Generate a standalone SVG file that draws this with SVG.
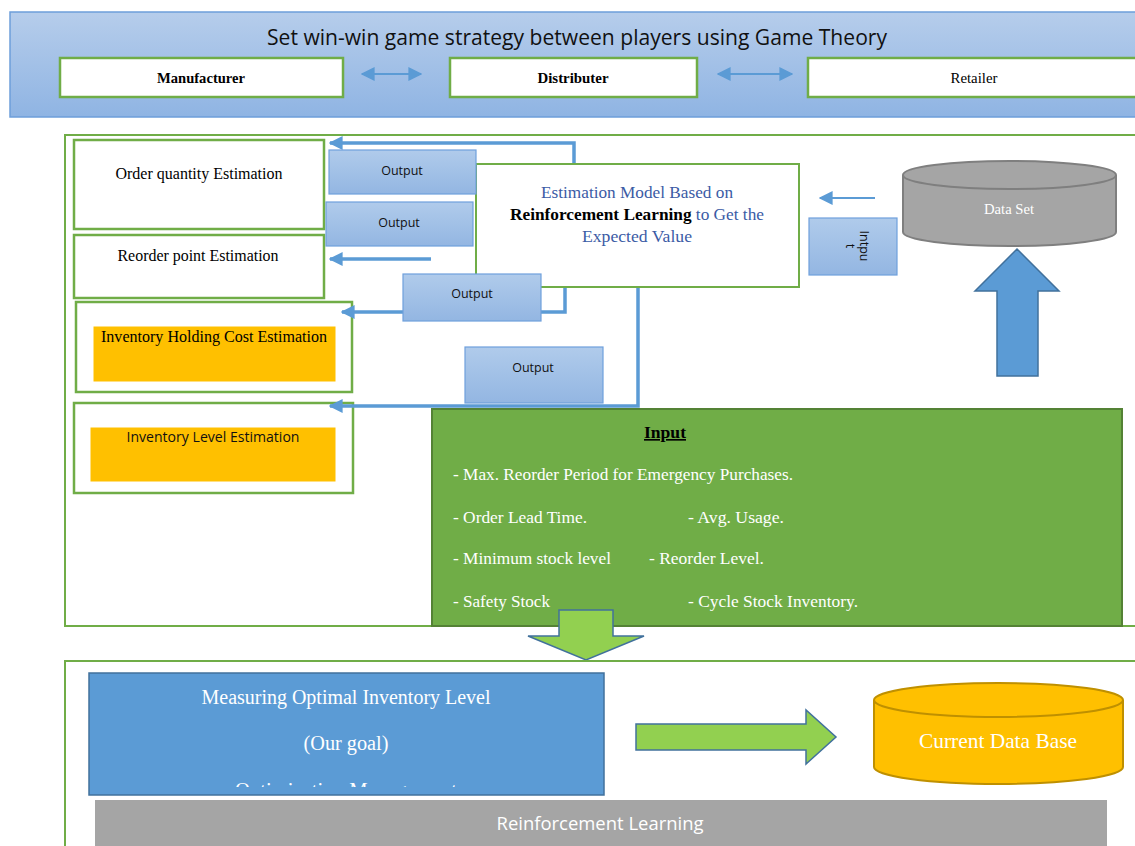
<svg xmlns="http://www.w3.org/2000/svg" width="1135" height="846" viewBox="0 0 1135 846">
<defs>
<linearGradient id="gBanner" x1="0" y1="0" x2="0" y2="1"><stop offset="0" stop-color="#b6cdeb"/><stop offset="1" stop-color="#8fb4e3"/></linearGradient>
<linearGradient id="gOut" x1="0" y1="0" x2="0" y2="1"><stop offset="0" stop-color="#b0cbeb"/><stop offset="1" stop-color="#93b6e2"/></linearGradient>
<marker id="ah" viewBox="0 0 10 10" refX="9" refY="5" markerWidth="4" markerHeight="4" orient="auto-start-reverse" markerUnits="strokeWidth"><path d="M0,0 L10,5 L0,10 z" fill="#5b9bd5"/></marker>
<marker id="ahs" viewBox="0 0 10 10" refX="9" refY="5" markerWidth="7" markerHeight="7" orient="auto-start-reverse" markerUnits="strokeWidth"><path d="M0,0 L10,5 L0,10 z" fill="#5b9bd5"/></marker>
<clipPath id="clipGoal"><rect x="89" y="673" width="515" height="114"/></clipPath>
<style>
.gbox{fill:#fff;stroke:#70ad47;stroke-width:2.5}
.frame{fill:none;stroke:#70ad47;stroke-width:2}
.out{fill:url(#gOut);stroke:#6fa0dc;stroke-width:1.2}
.conn{fill:none;stroke:#5b9bd5;stroke-width:3.5}
.tnr{font-family:"Liberation Serif","Times New Roman",serif}
.cal{font-family:"Open Sans","Liberation Sans",sans-serif}
.outt{font-family:"Open Sans","Liberation Sans",sans-serif;font-size:12.5px;fill:#111;text-anchor:middle}
.orange{fill:#ffc000;stroke:#fff;stroke-width:1}
.wt{fill:#fff}
</style>
</defs>

<g id="banner">
<rect x="10" y="12" width="1135" height="105" fill="url(#gBanner)" stroke="#6d9eda" stroke-width="1.5"/>
<text class="cal" x="577" y="45" font-size="21" text-anchor="middle" fill="#111" textLength="620" lengthAdjust="spacingAndGlyphs">Set win-win game strategy between players using Game Theory</text>
</g>
<g id="manufacturer">
<rect class="gbox" x="60" y="58" width="283" height="39"/>
<text class="tnr" x="201" y="83" font-size="14" font-weight="bold" text-anchor="middle" textLength="88" lengthAdjust="spacingAndGlyphs">Manufacturer</text>
</g>
<g id="distributer">
<rect class="gbox" x="450" y="58" width="247" height="39"/>
<text class="tnr" x="573" y="83" font-size="14" font-weight="bold" text-anchor="middle" textLength="71" lengthAdjust="spacingAndGlyphs">Distributer</text>
</g>
<g id="retailer">
<rect class="gbox" x="808" y="58" width="340" height="39"/>
<text class="tnr" x="974" y="83" font-size="14" text-anchor="middle" textLength="47" lengthAdjust="spacingAndGlyphs">Retailer</text>
</g>

<g id="middle-frame">
<rect class="frame" x="65" y="135" width="1080" height="491"/>
</g>

<g id="order-quantity">
<rect class="gbox" x="74" y="140" width="250" height="89"/>
<text class="tnr" x="199" y="179" font-size="16" text-anchor="middle" textLength="167" lengthAdjust="spacingAndGlyphs">Order quantity Estimation</text>
</g>
<g id="reorder-point">
<rect class="gbox" x="74" y="235" width="250" height="63"/>
<text class="tnr" x="198" y="261" font-size="16" text-anchor="middle" textLength="161" lengthAdjust="spacingAndGlyphs">Reorder point Estimation</text>
</g>
<g id="holding-cost">
<rect class="gbox" x="76" y="302" width="276" height="90" stroke-width="2"/>
<rect class="orange" x="93" y="326" width="243" height="56"/>
<text class="tnr" x="214" y="342" font-size="16" text-anchor="middle" textLength="226" lengthAdjust="spacingAndGlyphs">Inventory Holding Cost Estimation</text>
</g>
<g id="inventory-level">
<rect class="gbox" x="74" y="403" width="279" height="90" stroke-width="2"/>
<rect class="orange" x="90" y="427" width="246" height="55"/>
<text class="cal" x="213" y="442" font-size="14" text-anchor="middle" fill="#111" textLength="173" lengthAdjust="spacingAndGlyphs">Inventory Level Estimation</text>
</g>

<g id="connectors">
<path class="conn" d="M574,164 V143 H330" marker-end="url(#ah)"/>
<path class="conn" d="M431,259 H330" marker-end="url(#ah)"/>
<path class="conn" d="M565,268 V312 H342" marker-end="url(#ah)"/>
<path class="conn" d="M638,268 V406 H330" marker-end="url(#ah)"/>
<path d="M875,198 H820" fill="none" stroke="#5b9bd5" stroke-width="2" marker-end="url(#ahs)"/>
<path d="M362,74 H421" fill="none" stroke="#5b9bd5" stroke-width="2" marker-start="url(#ahs)" marker-end="url(#ahs)"/>
<path d="M718,74 H792" fill="none" stroke="#5b9bd5" stroke-width="2" marker-start="url(#ahs)" marker-end="url(#ahs)"/>
</g>

<g id="estimation-model">
<rect x="476" y="164" width="323" height="123" fill="#fff" stroke="#70ad47" stroke-width="2"/>
<text class="tnr" x="637" y="198" font-size="17" text-anchor="middle" fill="#3b5ba5" textLength="192" lengthAdjust="spacingAndGlyphs">Estimation Model Based on</text>
<text class="tnr" x="637" y="220" font-size="17" text-anchor="middle" fill="#3b5ba5" textLength="254" lengthAdjust="spacingAndGlyphs"><tspan font-weight="bold" fill="#000">Reinforcement Learning</tspan> to Get the</text>
<text class="tnr" x="637" y="242" font-size="17" text-anchor="middle" fill="#3b5ba5" textLength="110" lengthAdjust="spacingAndGlyphs">Expected Value</text>
</g>

<g id="output-1">
<rect class="out" x="329" y="150" width="147" height="44"/>
<text class="outt" x="402" y="175">Output</text>
</g>
<g id="output-2">
<rect class="out" x="326" y="202" width="147" height="44"/>
<text class="outt" x="399" y="227">Output</text>
</g>
<g id="output-3">
<rect class="out" x="403" y="274" width="138" height="47"/>
<text class="outt" x="472" y="298">Output</text>
</g>
<g id="output-4">
<rect class="out" x="465" y="347" width="138" height="56"/>
<text class="outt" x="533" y="372">Output</text>
</g>

<g id="input-small">
<rect class="out" x="809" y="218" width="88" height="57"/>
<text class="outt" transform="translate(860,246) rotate(90)" x="0" y="0">Intpu</text>
<text class="outt" transform="translate(846,246) rotate(90)" x="0" y="0">t</text>
</g>

<g id="data-set">
<path d="M903,175 V232 A106.5,14 0 0 0 1116,232 V175" fill="#a5a5a5" stroke="#7f7f7f" stroke-width="2"/>
<ellipse cx="1009.5" cy="175" rx="106.5" ry="14" fill="#a5a5a5" stroke="#7f7f7f" stroke-width="2"/>
<text class="tnr wt" x="1009" y="214" font-size="14.5" text-anchor="middle" textLength="50" lengthAdjust="spacingAndGlyphs">Data Set</text>
</g>

<g id="up-arrow">
<path d="M1017,249 L1059,291 L1038,291 L1038,376 L997,376 L997,291 L975,291 Z" fill="#5b9bd5" stroke="#41719c" stroke-width="1.5"/>
</g>

<g id="input-box">
<rect x="432" y="409" width="690" height="217" fill="#70ad47" stroke="#548235" stroke-width="2"/>
<text class="tnr" x="665" y="438" font-size="16.5" font-weight="bold" text-anchor="middle" text-decoration="underline" textLength="42" lengthAdjust="spacingAndGlyphs">Input</text>
<g class="tnr wt" font-size="16.5">
<text x="453" y="480" textLength="340" lengthAdjust="spacingAndGlyphs">- Max. Reorder Period for Emergency Purchases.</text>
<text x="453" y="523" textLength="134" lengthAdjust="spacingAndGlyphs">- Order Lead Time.</text>
<text x="688" y="523" textLength="96" lengthAdjust="spacingAndGlyphs">- Avg. Usage.</text>
<text x="453" y="564" textLength="158" lengthAdjust="spacingAndGlyphs">- Minimum stock level</text>
<text x="649" y="564" textLength="115" lengthAdjust="spacingAndGlyphs">- Reorder Level.</text>
<text x="453" y="607" textLength="97" lengthAdjust="spacingAndGlyphs">- Safety Stock</text>
<text x="688" y="607" textLength="170" lengthAdjust="spacingAndGlyphs">- Cycle Stock Inventory.</text>
</g>
</g>

<g id="down-arrow">
<path d="M559,610 H613 V636 H644 L586,660 L528,636 H559 Z" fill="#92d050" stroke="#41719c" stroke-width="1.5"/>
</g>

<g id="bottom-frame">
<rect class="frame" x="65" y="661" width="1080" height="200"/>
</g>

<g id="goal">
<rect x="89" y="673" width="515" height="122" fill="#5b9bd5" stroke="#41719c" stroke-width="1.5"/>
<g clip-path="url(#clipGoal)">
<text class="tnr wt" x="346" y="704" font-size="20" text-anchor="middle" textLength="289" lengthAdjust="spacingAndGlyphs">Measuring Optimal Inventory Level</text>
<text class="tnr wt" x="346" y="750" font-size="20" text-anchor="middle" textLength="85" lengthAdjust="spacingAndGlyphs">(Our goal)</text>
<text class="tnr wt" x="346" y="797" font-size="20" text-anchor="middle" textLength="222" lengthAdjust="spacingAndGlyphs">Optimization Management</text>
</g>
</g>

<g id="right-arrow">
<path d="M636,724 H806 V710 L836,737 L806,764 V750 H636 Z" fill="#92d050" stroke="#41719c" stroke-width="1.5"/>
</g>

<g id="current-db">
<path d="M874,700 V767 A124.5,17 0 0 0 1123,767 V700" fill="#ffc000" stroke="#bf9000" stroke-width="2"/>
<ellipse cx="998.5" cy="700" rx="124.5" ry="17" fill="#ffc000" stroke="#bf9000" stroke-width="2"/>
<text class="tnr wt" x="998" y="748" font-size="21" text-anchor="middle" textLength="158" lengthAdjust="spacingAndGlyphs">Current Data Base</text>
</g>

<g id="rl-bar">
<rect x="95" y="800" width="1012" height="50" fill="#a5a5a5"/>
<text class="cal wt" x="600" y="830" font-size="19" text-anchor="middle" textLength="207" lengthAdjust="spacingAndGlyphs">Reinforcement Learning</text>
</g>
</svg>
